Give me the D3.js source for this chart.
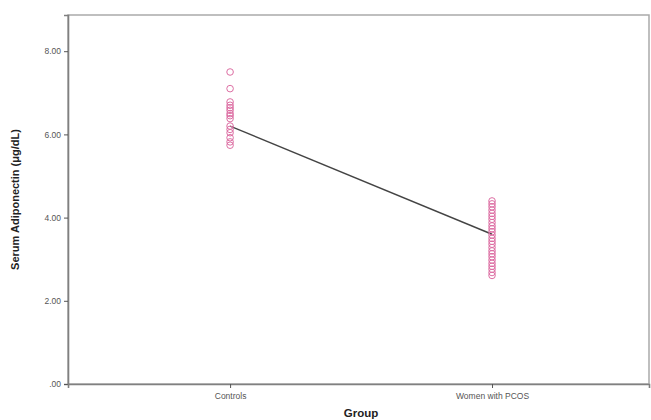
<!DOCTYPE html>
<html>
<head>
<meta charset="utf-8">
<script src="https://cdn.jsdelivr.net/npm/d3@7"></script>
<style>
  body { margin: 0; background: #fff; }
  svg { display: block; font-family: Arial, "Liberation Sans", sans-serif; }
</style>
</head>
<body>
<svg width="651" height="420"></svg>
<script>
'use strict';

let groups = ["Controls", "Women with PCOS"];
let controlValues = [7.5, 7.1, 6.78, 6.7, 6.64, 6.58, 6.5, 6.45, 6.38, 6.2, 6.12, 6.04, 5.92, 5.82, 5.74];
let pcosValues = [4.4, 4.33, 4.26, 4.18, 4.1, 4.03, 3.96, 3.88, 3.8, 3.73, 3.66, 3.58, 3.5, 3.43, 3.36,
                  3.28, 3.2, 3.13, 3.06, 2.98, 2.9, 2.83, 2.76, 2.68, 2.61];
let groupMeans = [6.2, 3.6];
let yTicks = [0, 2, 4, 6, 8];

let svg = d3.select("svg");
let plotLeft = 68, plotRight = 649, plotTop = 15, plotBottom = 384;

let x = d3.scalePoint().domain(groups).range([plotLeft, plotRight]).padding(0.609).align(0.508);
let y = d3.scaleLinear().domain([0, 8.87]).range([plotBottom, plotTop]);

// frame
svg.append("rect")
    .attr("x", plotLeft).attr("y", plotTop)
    .attr("width", plotRight - plotLeft).attr("height", plotBottom - plotTop)
    .attr("fill", "none")
    .attr("stroke", "#aaa")
    .attr("stroke-width", 1.5);

let yAxis = svg.append("g")
    .attr("transform", "translate(" + plotLeft + ",0)")
    .call(d3.axisLeft(y).tickValues(yTicks).tickSize(4)
        .tickFormat(function(d) { return d === 0 ? ".00" : d3.format(".2f")(d); }));

let xAxis = svg.append("g")
    .attr("transform", "translate(0," + plotBottom + ")")
    .call(d3.axisBottom(x).tickSize(4));

[yAxis, xAxis].forEach(function(ax) {
    ax.select(".domain").attr("stroke", "#808080").attr("stroke-width", 1.6);
    ax.selectAll(".tick line").attr("stroke", "#555");
    ax.selectAll(".tick text")
        .attr("fill", "#555")
        .style("font-size", "8.5px")
        .style("font-family", "Arial, 'Liberation Sans', sans-serif");
});
xAxis.selectAll(".tick text").attr("dy", "0.9em");

// mean line
let meanData = groups.map(function(g, i) { return {group: g, value: groupMeans[i]}; });
svg.append("path")
    .datum(meanData)
    .attr("fill", "none")
    .attr("stroke", "#444")
    .attr("stroke-width", 1.4)
    .attr("d", d3.line()
        .x(function(d) { return x(d.group); })
        .y(function(d) { return y(d.value); }));

// points
let points = [];
controlValues.forEach(function(v) { points.push({group: groups[0], value: v}); });
pcosValues.forEach(function(v) { points.push({group: groups[1], value: v}); });

svg.append("g")
    .selectAll("circle")
    .data(points)
    .enter().append("circle")
    .attr("cx", function(d) { return x(d.group); })
    .attr("cy", function(d) { return y(d.value); })
    .attr("r", 3.3)
    .attr("fill", "none")
    .attr("stroke", "#dd6ea3")
    .attr("stroke-width", 1);

// axis titles
svg.append("text")
    .attr("transform", "translate(19," + ((plotTop + plotBottom) / 2) + ") rotate(-90)")
    .attr("text-anchor", "middle")
    .style("font-size", "11px")
    .style("font-weight", "bold")
    .attr("fill", "#222")
    .text("Serum Adiponectin (μg/dL)");

svg.append("text")
    .attr("x", 361)
    .attr("y", 417)
    .attr("text-anchor", "middle")
    .style("font-size", "11.5px")
    .style("font-weight", "bold")
    .attr("fill", "#222")
    .text("Group");
</script>
</body>
</html>
